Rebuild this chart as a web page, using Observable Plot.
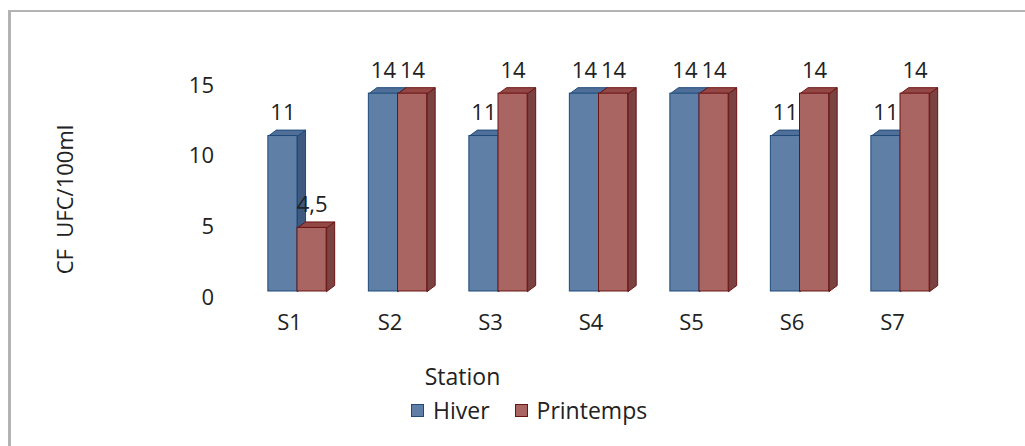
<!DOCTYPE html>
<html>
<head>
<meta charset="utf-8">
<script src="https://cdn.jsdelivr.net/npm/d3@7"></script>
<script src="https://cdn.jsdelivr.net/npm/@observablehq/plot@0.6"></script>
<style>
  html, body { margin: 0; padding: 0; background: #fff; }
  #wrap { position: relative; width: 1025px; height: 446px; overflow: hidden; font-family: "Open Sans", "Liberation Sans", sans-serif; }
  #frameTop { position: absolute; left: 8px; top: 10px; width: 1017px; height: 2px; background: #b3b3b3; }
  #frameLeft { position: absolute; left: 8px; top: 10px; width: 3px; height: 436px; background: #b3b3b3; }
  #chart { position: absolute; left: 0; top: 0; }
  #legend { position: absolute; top: 394px; left: 411px; display: flex; align-items: center; font-size: 23px; color: #222; }
  .sw { width: 11px; height: 11px; display: inline-block; margin-right: 9px; }
  .item { display: flex; align-items: center; margin-right: 25px; }
</style>
</head>
<body>
<div id="wrap">
  <div id="frameTop"></div>
  <div id="frameLeft"></div>
  <div id="chart"></div>
  <div id="legend"></div>
</div>
<script>
const stations = ["S1", "S2", "S3", "S4", "S5", "S6", "S7"];
const seriesNames = ["Hiver", "Printemps"];
const hiver = [11, 14, 11, 14, 14, 11, 11];
const printemps = [4.5, 14, 14, 14, 14, 14, 14];
const yTicks = [0, 5, 10, 15];
const yLabel = "CF  UFC/100ml";
const xLabel = "Station";

// style / layout constants
const barW = 0.29;      // bar width in x units
const depX = 0.08;      // 3D depth, x units
const depY = 0.42;      // 3D depth, y units
const colors = {
  Hiver: {front: "#5f7fa6", top: "#4f6f98", side: "#3f5a80", stroke: "#1f4a7a"},
  Printemps: {front: "#a96561", top: "#934845", side: "#7a4341", stroke: "#6a1414"}
};

const rows = [];
seriesNames.forEach((s, k) => {
  const vals = k === 0 ? hiver : printemps;
  stations.forEach((st, i) => {
    const c = i + 1;
    const x1 = k === 0 ? c - barW : c;
    const x2 = x1 + barW;
    rows.push({station: st, series: s, value: vals[i], x1, x2, xc: (x1 + x2) / 2});
  });
});

function polys(series, face) {
  const out = [];
  rows.filter(r => r.series === series).forEach((r, j) => {
    const id = series + face + j;
    let pts;
    if (face === "top") {
      pts = [[r.x1, r.value], [r.x2, r.value], [r.x2 + depX, r.value + depY], [r.x1 + depX, r.value + depY], [r.x1, r.value]];
    } else {
      pts = [[r.x2, 0], [r.x2, r.value], [r.x2 + depX, r.value + depY], [r.x2 + depX, depY], [r.x2, 0]];
    }
    pts.forEach(p => out.push({id, x: p[0], y: p[1]}));
  });
  return out;
}

const fs = 22;
const marks = [];
seriesNames.forEach(s => {
  const c = colors[s];
  const data = rows.filter(r => r.series === s);
  marks.push(Plot.line(polys(s, "side"), {x: "x", y: "y", z: "id", fill: c.side, stroke: c.stroke, strokeWidth: 1}));
  marks.push(Plot.line(polys(s, "top"), {x: "x", y: "y", z: "id", fill: c.top, stroke: c.stroke, strokeWidth: 1}));
  marks.push(Plot.rectY(data, {x1: "x1", x2: "x2", y1: 0, y2: "value", fill: c.front, stroke: c.stroke, strokeWidth: 1}));
});
marks.push(Plot.text(rows, {x: "xc", y: "value", text: d => String(d.value).replace(".", ","), dy: -23, fontSize: fs, fill: "#222"}));
marks.push(Plot.axisY(yTicks, {tickSize: 0, tickPadding: 0, dx: 17, dy: 6, fontSize: fs, tickFormat: d => d, fill: "#222", label: null}));
marks.push(Plot.axisX(stations.map((s, i) => i + 1), {tickSize: 0, tickPadding: 23, dx: -8, fontSize: fs, tickFormat: d => stations[d - 1], fill: "#222", label: null}));
marks.push(Plot.text([yLabel], {frameAnchor: "left", textAnchor: "middle", lineAnchor: "middle", dx: -131, dy: 14, rotate: -90, fontSize: fs, fill: "#222"}));
marks.push(Plot.text([xLabel], {frameAnchor: "bottom", lineAnchor: "middle", dy: 86, dx: 462 - 598.5, fontSize: 23, fill: "#222"}));

const plot = Plot.plot({
  width: 1025,
  height: 395,
  marginLeft: 196.5,
  marginRight: 24.5,
  marginTop: 79,
  marginBottom: 104,
  x: {type: "linear", domain: [0, 8], axis: null},
  y: {domain: [0, 15], axis: null},
  style: {fontFamily: "'Open Sans', 'Liberation Sans', sans-serif", background: "transparent", overflow: "visible"},
  marks
});
document.getElementById("chart").appendChild(plot);

const legend = document.getElementById("legend");
seriesNames.forEach(s => {
  const item = document.createElement("div");
  item.className = "item";
  const sw = document.createElement("span");
  sw.className = "sw";
  sw.style.background = colors[s].front;
  sw.style.border = "1px solid " + colors[s].stroke;
  item.appendChild(sw);
  item.appendChild(document.createTextNode(s));
  legend.appendChild(item);
});
</script>
</body>
</html>
